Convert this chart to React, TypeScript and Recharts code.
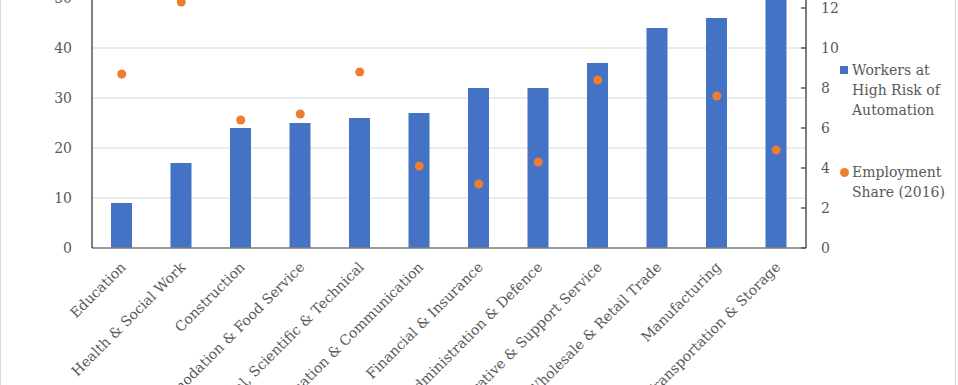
import React from "react";
import { ComposedChart, Bar, Line, XAxis, YAxis, CartesianGrid } from "recharts";

const sectors = [
  "Education",
  "Health & Social Work",
  "Construction",
  "Accommodation & Food Service",
  "Professional, Scientific & Technical",
  "Information & Communication",
  "Financial & Insurance",
  "Public Administration & Defence",
  "Administrative & Support Service",
  "Wholesale & Retail Trade",
  "Manufacturing",
  "Transportation & Storage",
];
const workersAtRisk = [9, 17, 24, 25, 26, 27, 32, 32, 37, 44, 46, 52];
const employmentShare = [8.7, 12.3, 6.4, 6.7, 8.8, 4.1, 3.2, 4.3, 8.4, 15.2, 7.6, 4.9];
const leftTicks = [0, 10, 20, 30, 40, 50, 60];
const rightTicks = [0, 2, 4, 6, 8, 10, 12, 14, 16];

const FONT = "'DejaVu Serif', Georgia, serif";
const TEXT = "#595959";
const BLUE = "#4472C4";
const ORANGE = "#ED7D31";

const data = sectors.map((name, i) => ({
  name,
  workers: workersAtRisk[i],
  share: employmentShare[i],
}));

// rotated category label, right end sits just under the bar
function SectorTick(props: any) {
  const { x, y, payload } = props;
  const tx = x + 5;
  const ty = y + 12;
  return (
    <text
      x={tx}
      y={ty}
      transform={`rotate(-45, ${tx}, ${ty})`}
      textAnchor="end"
      fill={TEXT}
      fontSize={14}
      fontFamily={FONT}
    >
      {payload.value}
    </text>
  );
}

function LegendBox() {
  const line = { fontSize: 14, lineHeight: "20px", color: TEXT, fontFamily: FONT };
  return (
    <div style={{ position: "absolute", left: 840, top: 60, width: 112 }}>
      <div style={{ display: "flex", alignItems: "flex-start" }}>
        <span style={{ width: 8, height: 8, background: BLUE, marginTop: 6, marginRight: 4, flex: "none" }} />
        <div style={line}>
          Workers at
          <br />
          High Risk of
          <br />
          Automation
        </div>
      </div>
      <div style={{ display: "flex", alignItems: "flex-start", marginTop: 42 }}>
        <span
          style={{ width: 9, height: 9, borderRadius: "50%", background: ORANGE, marginTop: 6, marginRight: 3, flex: "none" }}
        />
        <div style={line}>
          Employment
          <br />
          Share (2016)
        </div>
      </div>
    </div>
  );
}

export default function App() {
  return (
    <div
      style={{
        position: "absolute",
        left: 0,
        top: 0,
        width: 958,
        height: 385,
        overflow: "hidden",
        background: "#fff",
      }}
    >
      <div style={{ position: "absolute", left: 0, top: 0, width: 1, height: 385, background: "#d9d9d9" }} />
      <div style={{ position: "absolute", left: 955, top: 0, width: 1, height: 385, background: "#d9d9d9" }} />
      <div style={{ position: "absolute", left: 0, top: -100 }}>
        <ComposedChart width={958} height={485} data={data} margin={{ top: 28, right: 0, left: 0, bottom: 0 }}>
          <CartesianGrid yAxisId="left" vertical={false} stroke="#d9d9d9" />
          <XAxis
            dataKey="name"
            interval={0}
            height={137}
            tickLine={false}
            axisLine={{ stroke: "#7f7f7f", strokeWidth: 1.5 }}
            tick={<SectorTick />}
          />
          <YAxis
            yAxisId="left"
            domain={[0, 64]}
            ticks={leftTicks}
            width={92}
            tickLine={false}
            axisLine={{ stroke: "#000" }}
            tickMargin={14}
            tick={{ fill: TEXT, fontSize: 14, fontFamily: FONT }}
          />
          <YAxis
            yAxisId="right"
            orientation="right"
            domain={[0, 16]}
            ticks={rightTicks}
            width={152}
            tickSize={-5}
            tickMargin={20}
            tickLine={{ stroke: "#595959", strokeWidth: 1.5 }}
            axisLine={{ stroke: "#000" }}
            tick={{ fill: TEXT, fontSize: 14, fontFamily: FONT }}
          />
          <Bar yAxisId="left" dataKey="workers" fill={BLUE} barSize={21} isAnimationActive={false} />
          <Line
            yAxisId="right"
            dataKey="share"
            stroke="none"
            strokeWidth={0}
            dot={{ r: 4.5, fill: ORANGE, stroke: "none" }}
            activeDot={false}
            isAnimationActive={false}
          />
        </ComposedChart>
      </div>
      <LegendBox />
    </div>
  );
}
